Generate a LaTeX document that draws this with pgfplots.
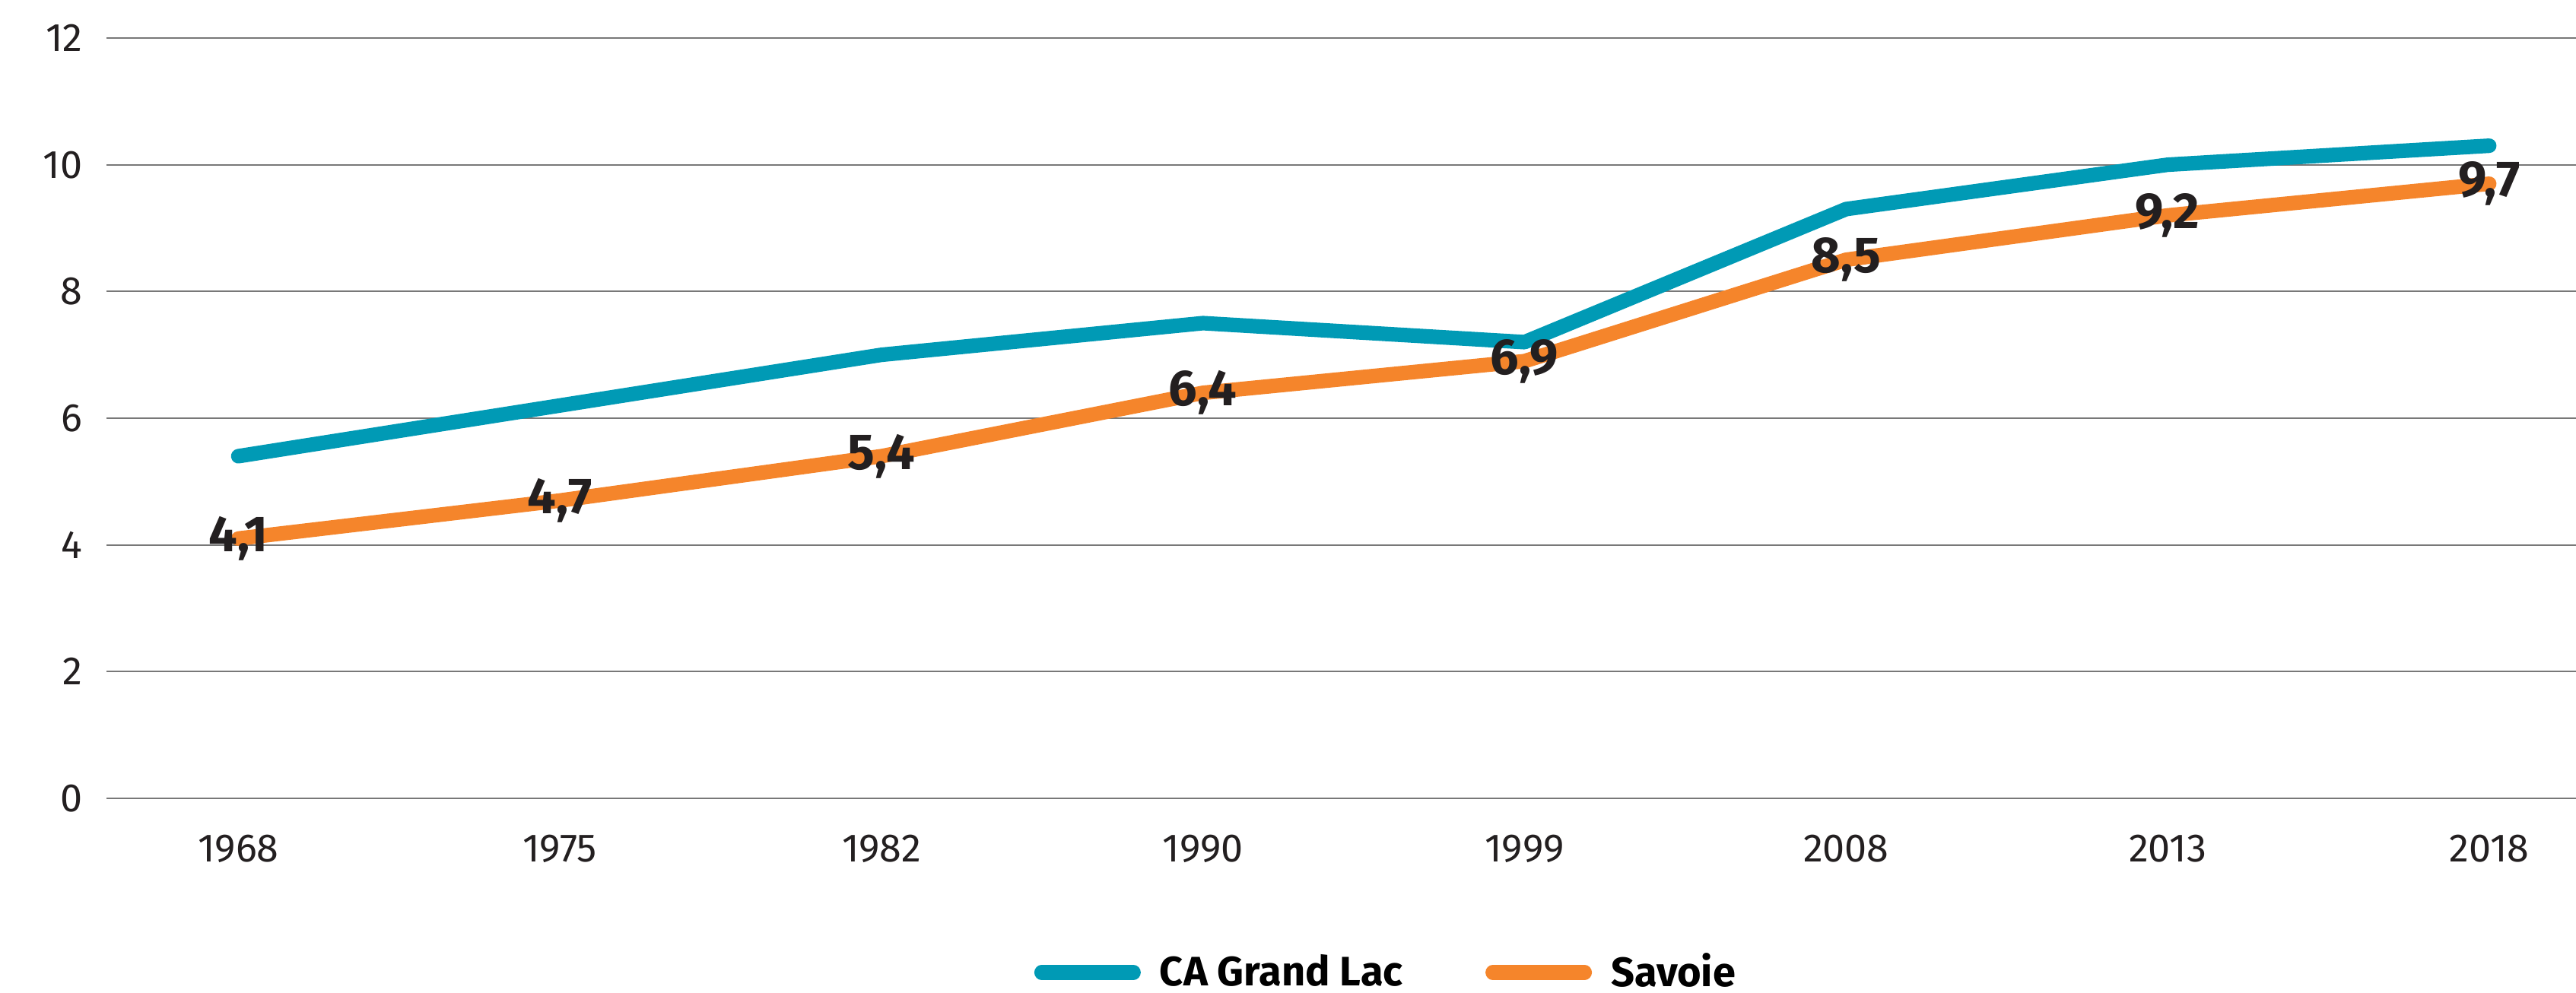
\documentclass[border=0pt]{standalone}
\usepackage{pgfplots}
\pgfplotsset{compat=1.18}
\usepackage{fontspec}
\setmainfont{Fira Sans}
\definecolor{cablue}{RGB}{0,154,181}
\definecolor{savorange}{RGB}{245,133,43}
\definecolor{gridgray}{RGB}{120,120,120}
\begin{document}
\begin{tikzpicture}
\useasboundingbox (0,0) rectangle (812.9pt,313.4pt);
\begin{axis}[
  at={(33.6pt,61.4pt)}, anchor=south west,
  scale only axis, width=779.3pt, height=240pt,
  xmin=-0.41, xmax=7.27, ymin=0, ymax=12,
  xtick={0,...,7},
  xticklabels={1968,1975,1982,1990,1999,2008,2013,2018},
  ytick={0,2,...,12},
  axis line style={draw=none},
  major tick style={draw=none},
  ymajorgrids, grid style={gridgray, line width=0.5pt},
  /pgf/number format/assume math mode=true,
  tick label style={font=\fontsize{12.5}{14}\selectfont\color[RGB]{35,31,32}},
  xticklabel style={yshift=-8pt},
  yticklabel style={xshift=-4pt},
  legend style={at={(0.519,-0.229)}, anchor=center, draw=none, fill=none,
    legend columns=2, font=\fontsize{13}{15}\selectfont\bfseries,
    /tikz/every odd column/.append style={column sep=4pt},
    /tikz/every even column/.append style={column sep=24pt}},
  legend image code/.code={\draw[#1, line cap=round] (0pt,0pt) -- (29pt,0pt);},
  clip=false,
]
\addplot[cablue, line width=4.6pt, line cap=round, line join=round] coordinates {
 (0,5.4) (1,6.2) (2,7.0) (3,7.5) (4,7.2) (5,9.3) (6,10.0) (7,10.3)};
\addlegendentry{CA Grand Lac}
\addplot[savorange, line width=4.6pt, line cap=round, line join=round,
  nodes near coords,
  every node near coord/.append style={anchor=center, font=\fontsize{16}{18}\selectfont\bfseries, text={rgb,255:red,35;green,31;blue,32},
    /pgf/number format/.cd, fixed, fixed zerofill, precision=1, use comma}
  ] coordinates {
 (0,4.1) (1,4.7) (2,5.4) (3,6.4) (4,6.9) (5,8.5) (6,9.2) (7,9.7)};
\addlegendentry{Savoie}
\end{axis}
\end{tikzpicture}
\end{document}
